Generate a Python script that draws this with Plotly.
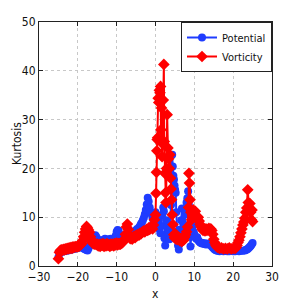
import plotly.graph_objects as go

# ---- Potential (blue) ----
pot_x = [-25, -24.75, -24.5, -24.25, -24, -23.75, -23.5, -23.25, -23, -22.75, -22.5, -22.25, -22, -21.75, -21.5, -21.25,
         -21, -20.75, -20.5, -20.25, -20, -19.75, -19.5, -19.25, -19, -18.75, -18.5, -18.25, -18, -17.75, -17.5, -17.25,
         -17, -16.75, -16.5, -16.25, -16, -15.75, -15.5, -15.25, -15, -14.75, -14.5, -14.25, -14, -13.75, -13.5, -13.25,
         -13, -12.75, -12.5, -12.25, -12, -11.75, -11.5, -11.25, -11, -10.75, -10.5, -10.25, -10, -9.75, -9.5, -9.25,
         -9, -8.75, -8.5, -8.25, -8, -7.75, -7.5, -7.25, -7, -6.75, -6.5, -6.25, -6, -5.75, -5.5, -5.25,
         -5, -4.75, -4.5, -4.25, -4, -3.75, -3.5, -3.25, -3, -2.75, -2.5, -2.25, -2, -1.75, -1.5, -1.25,
         -1, -0.75, -0.5, -0.25, 0, 0.25, 0.5, 0.75, 1.0, 1.25, 1.5, 1.75, 2.0, 2.15, 2.3, 2.5,
         2.65, 2.8, 3.0, 3.2, 3.4, 3.6, 3.8, 4.0, 4.15, 4.3, 4.45, 4.6, 4.75, 4.9, 5.05, 5.2,
         5.35, 5.5, 5.65, 5.8, 6.0, 6.2, 6.4, 6.6, 6.8, 7.0, 7.2, 7.4, 7.6, 7.8, 8.0, 8.2,
         8.4, 8.6, 8.8, 9.0, 9.2, 9.4, 9.6, 9.8, 10.0, 10.25, 10.5, 10.75, 11, 11.25, 11.5, 11.75,
         12, 12.25, 12.5, 12.75, 13, 13.25, 13.5, 13.75, 14, 14.25, 14.5, 14.75, 15, 15.25, 15.5, 15.75,
         16, 16.5, 17, 17.5, 18, 18.5, 19, 19.5, 20, 20.5, 21, 21.5, 22, 22.5, 23, 23.25,
         23.5, 23.75, 24, 24.25, 24.5, 24.75, 25]
pot_y = [1.8, 2.5, 2.8, 3.0, 2.9, 3.1, 3.0, 3.2, 3.1, 3.3, 3.2, 3.4, 3.3, 3.5, 3.4, 3.6,
         3.5, 3.7, 3.6, 3.8, 3.7, 3.9, 3.8, 4.0, 3.9, 3.8, 3.6, 3.5, 3.4, 3.3, 3.2, 3.6,
         4.2, 4.8, 5.3, 5.6, 5.9, 6.1, 6.3, 6.0, 5.6, 5.3, 5.0, 4.9, 5.1, 5.3, 5.0, 5.4,
         5.6, 5.2, 5.0, 5.3, 5.5, 5.2, 5.6, 5.3, 5.0, 5.2, 5.5, 6.2, 7.0, 7.4, 7.2, 6.5,
         5.8, 5.5, 5.4, 5.6, 5.8, 5.6, 5.9, 6.1, 5.8, 6.0, 6.3, 6.6, 6.4, 6.8, 7.1, 6.9,
         7.3, 7.6, 7.4, 7.9, 8.2, 8.6, 8.9, 9.4, 9.9, 10.6, 11.5, 12.6, 14.0, 13.2, 12.0, 11.0,
         10.6, 9.8, 9.2, 10.2, 11.0, 10.4, 9.6, 9.0, 7.6, 6.7, 8.2, 10.5, 12.0, 11.2, 5.7, 4.2,
         6.0, 9.4, 8.0, 6.4, 7.4, 5.5, 7.8, 12.5, 18.0, 22.8, 20.4, 18.5, 17.7, 16.5, 15.6, 15.0,
         11.0, 7.0, 5.7, 4.2, 3.4, 4.5, 7.5, 9.4, 11.8, 9.0, 6.4, 8.4, 10.5, 11.5, 13.0, 13.9,
         15.3, 12.5, 8.0, 4.0, 6.0, 7.6, 8.3, 7.0, 6.5, 6.0, 5.6, 5.9, 5.3, 5.0, 4.8, 4.7,
         4.6, 4.7, 4.5, 4.6, 4.4, 4.6, 4.5, 4.4, 4.5, 4.3, 4.0, 3.8, 3.6, 3.4, 3.3, 3.2,
         3.1, 3.0, 3.1, 3.0, 3.1, 3.0, 3.0, 3.1, 3.0, 3.0, 3.1, 3.0, 3.1, 3.1, 3.2, 3.3,
         3.4, 3.5, 3.7, 3.9, 4.1, 4.4, 4.7]

# ---- Vorticity (red) ----
vor_x = [-25, -24.75, -24.5, -24.25, -24, -23.75, -23.5, -23.25, -23, -22.75, -22.5, -22.25, -22, -21.75, -21.5, -21.25,
         -21, -20.75, -20.5, -20.25, -20, -19.75, -19.5, -19.25, -19, -18.75, -18.5, -18.25, -18, -17.75, -17.5, -17.25,
         -17, -16.75, -16.5, -16.25, -16, -15.75, -15.5, -15.25, -15, -14.75, -14.5, -14.25, -14, -13.75, -13.5, -13.25,
         -13, -12.75, -12.5, -12.25, -12, -11.75, -11.5, -11.25, -11, -10.75, -10.5, -10.25, -10, -9.75, -9.5, -9.25,
         -9, -8.75, -8.5, -8.25, -8, -7.75, -7.5, -7.25, -7, -6.75, -6.5, -6.25, -6, -5.75, -5.5, -5.25,
         -5, -4.75, -4.5, -4.25, -4, -3.75, -3.5, -3.25, -3, -2.75, -2.5, -2.25, -2, -1.75, -1.5, -1.25,
         -1, -0.75, -0.5, -0.25, 0, 0.15, 0.25, 0.35, 0.45, 0.55, 0.7, 0.85, 1.0, 1.15, 1.3, 1.4,
         1.55, 1.7, 1.85, 2.0, 2.15, 2.25, 2.4, 2.55, 2.7, 2.85, 3.0, 3.2, 3.4, 3.55, 3.7, 3.85,
         4.0, 4.15, 4.3, 4.5, 4.7, 4.9, 5.1, 5.3, 5.5, 5.75, 6.0, 6.25, 6.5, 6.75, 7.0, 7.25,
         7.5, 7.75, 8.0, 8.25, 8.5, 8.6, 8.75, 8.9, 9.1, 9.3, 9.5, 9.75, 10.0, 10.25, 10.5, 10.75,
         11, 11.25, 11.5, 11.75, 12, 12.25, 12.5, 12.75, 13, 13.25, 13.5, 13.75, 14, 14.25, 14.5, 14.75,
         15, 15.25, 15.5, 15.75, 16, 16.5, 17, 17.5, 18, 18.5, 19, 19.5, 20, 20.5, 20.75, 21,
         21.25, 21.5, 21.75, 22, 22.25, 22.5, 22.75, 23, 23.25, 23.5, 23.75, 23.9, 24.1, 24.3, 24.5, 24.7,
         24.85, 25]
vor_y = [1.5, 2.8, 3.2, 3.3, 3.2, 3.4, 3.3, 3.5, 3.4, 3.6, 3.5, 3.7, 3.6, 3.8, 3.6, 3.9,
         3.8, 3.9, 4.0, 3.9, 4.1, 4.0, 4.2, 4.4, 4.6, 5.2, 6.0, 6.9, 7.6, 8.1, 7.8, 7.4,
         6.9, 6.0, 5.2, 4.8, 4.6, 4.5, 4.6, 4.4, 4.5, 4.1, 4.4, 4.0, 4.5, 4.2, 4.6, 4.0,
         4.4, 4.1, 4.6, 4.2, 4.4, 4.0, 4.5, 4.2, 4.5, 4.1, 4.6, 4.3, 4.7, 4.3, 4.6, 4.5,
         4.5, 4.7, 4.8, 5.1, 5.5, 6.5, 8.0, 8.6, 7.5, 6.2, 5.6, 5.8, 5.5, 5.9, 6.1, 5.8,
         6.3, 6.2, 6.5, 6.3, 6.7, 6.6, 6.9, 7.0, 7.2, 7.0, 7.3, 7.5, 7.3, 7.8, 7.5, 7.9,
         8.2, 7.6, 8.4, 9.5, 10.5, 14.9, 19.2, 23.6, 25.9, 26.3, 34.4, 33.5, 36.0, 35.5, 36.8, 27.9,
         32.4, 22.4, 25.0, 34.0, 41.3, 25.5, 19.0, 15.0, 13.0, 20.0, 31.0, 24.2, 22.0, 20.0, 22.8, 18.0,
         15.8, 13.6, 10.5, 8.5, 6.4, 5.8, 6.6, 5.5, 6.0, 5.4, 5.8, 5.2, 5.6, 5.0, 5.7, 5.3,
         5.9, 6.4, 7.0, 8.0, 12.0, 19.0, 17.0, 13.6, 11.0, 9.5, 10.5, 11.5, 10.8, 11.2, 10.2, 9.6,
         10.0, 9.2, 8.5, 8.0, 7.6, 7.3, 7.5, 7.2, 7.6, 7.3, 7.5, 7.7, 7.4, 7.6, 7.3, 6.5,
         5.5, 4.8, 4.3, 4.0, 3.8, 3.6, 3.7, 3.5, 3.6, 3.5, 3.7, 3.5, 3.6, 3.6, 3.8, 4.2,
         4.8, 5.3, 6.0, 6.8, 7.6, 8.4, 9.0, 9.8, 11.0, 11.9, 15.6, 13.0, 11.5, 12.8, 11.0, 9.5,
         11.5, 9.1]

x_ticks = [-30, -20, -10, 0, 10, 20, 30]
y_ticks = [0, 10, 20, 30, 40, 50]

FONT = "DejaVu Sans Condensed, Liberation Sans Narrow, Liberation Sans, Arial"

fig = go.Figure()
fig.add_trace(go.Scatter(x=pot_x, y=pot_y, mode="lines+markers", name="Potential",
                         line=dict(color="#1f3cff", width=2),
                         marker=dict(symbol="circle", size=8, color="#1f3cff")))
fig.add_trace(go.Scatter(x=vor_x, y=vor_y, mode="lines+markers", name="Vorticity",
                         line=dict(color="#ff0000", width=2),
                         marker=dict(symbol="diamond", size=9, color="#ff0000")))

axis_common = dict(showline=True, linecolor="#222222", linewidth=1, mirror="ticks",
                   ticks="inside", ticklen=4, tickcolor="#222222", automargin=False,
                   showgrid=True, gridcolor="#c8c8c8", griddash="dot", gridwidth=1,
                   zeroline=False, tickfont=dict(family=FONT, size=12, color="#111111"))

fig.update_layout(
    width=292, height=292,
    margin=dict(l=31, r=28, t=14, b=34),
    paper_bgcolor="white", plot_bgcolor="white",
    font=dict(family=FONT, size=12, color="#111111"),
    showlegend=True,
    legend=dict(x=1, y=1, xanchor="right", yanchor="top", bgcolor="white",
                bordercolor="#222222", borderwidth=1, font=dict(family=FONT, size=11),
                itemwidth=30, tracegroupgap=0),
    xaxis=dict(range=[-30, 30], tickvals=x_ticks, **axis_common),
    yaxis=dict(range=[0, 50], tickvals=y_ticks, **axis_common),
    annotations=[
        dict(text="x", xref="paper", yref="paper", x=0.5, y=0, yshift=-19,
             xanchor="center", yanchor="top", showarrow=False, font=dict(family=FONT, size=12)),
        dict(text="Kurtosis", xref="paper", yref="paper", x=0, y=0.5, xshift=-13,
             xanchor="right", yanchor="middle", textangle=-90, showarrow=False,
             font=dict(family=FONT, size=12)),
    ],
)

fig.write_html("out.html")
